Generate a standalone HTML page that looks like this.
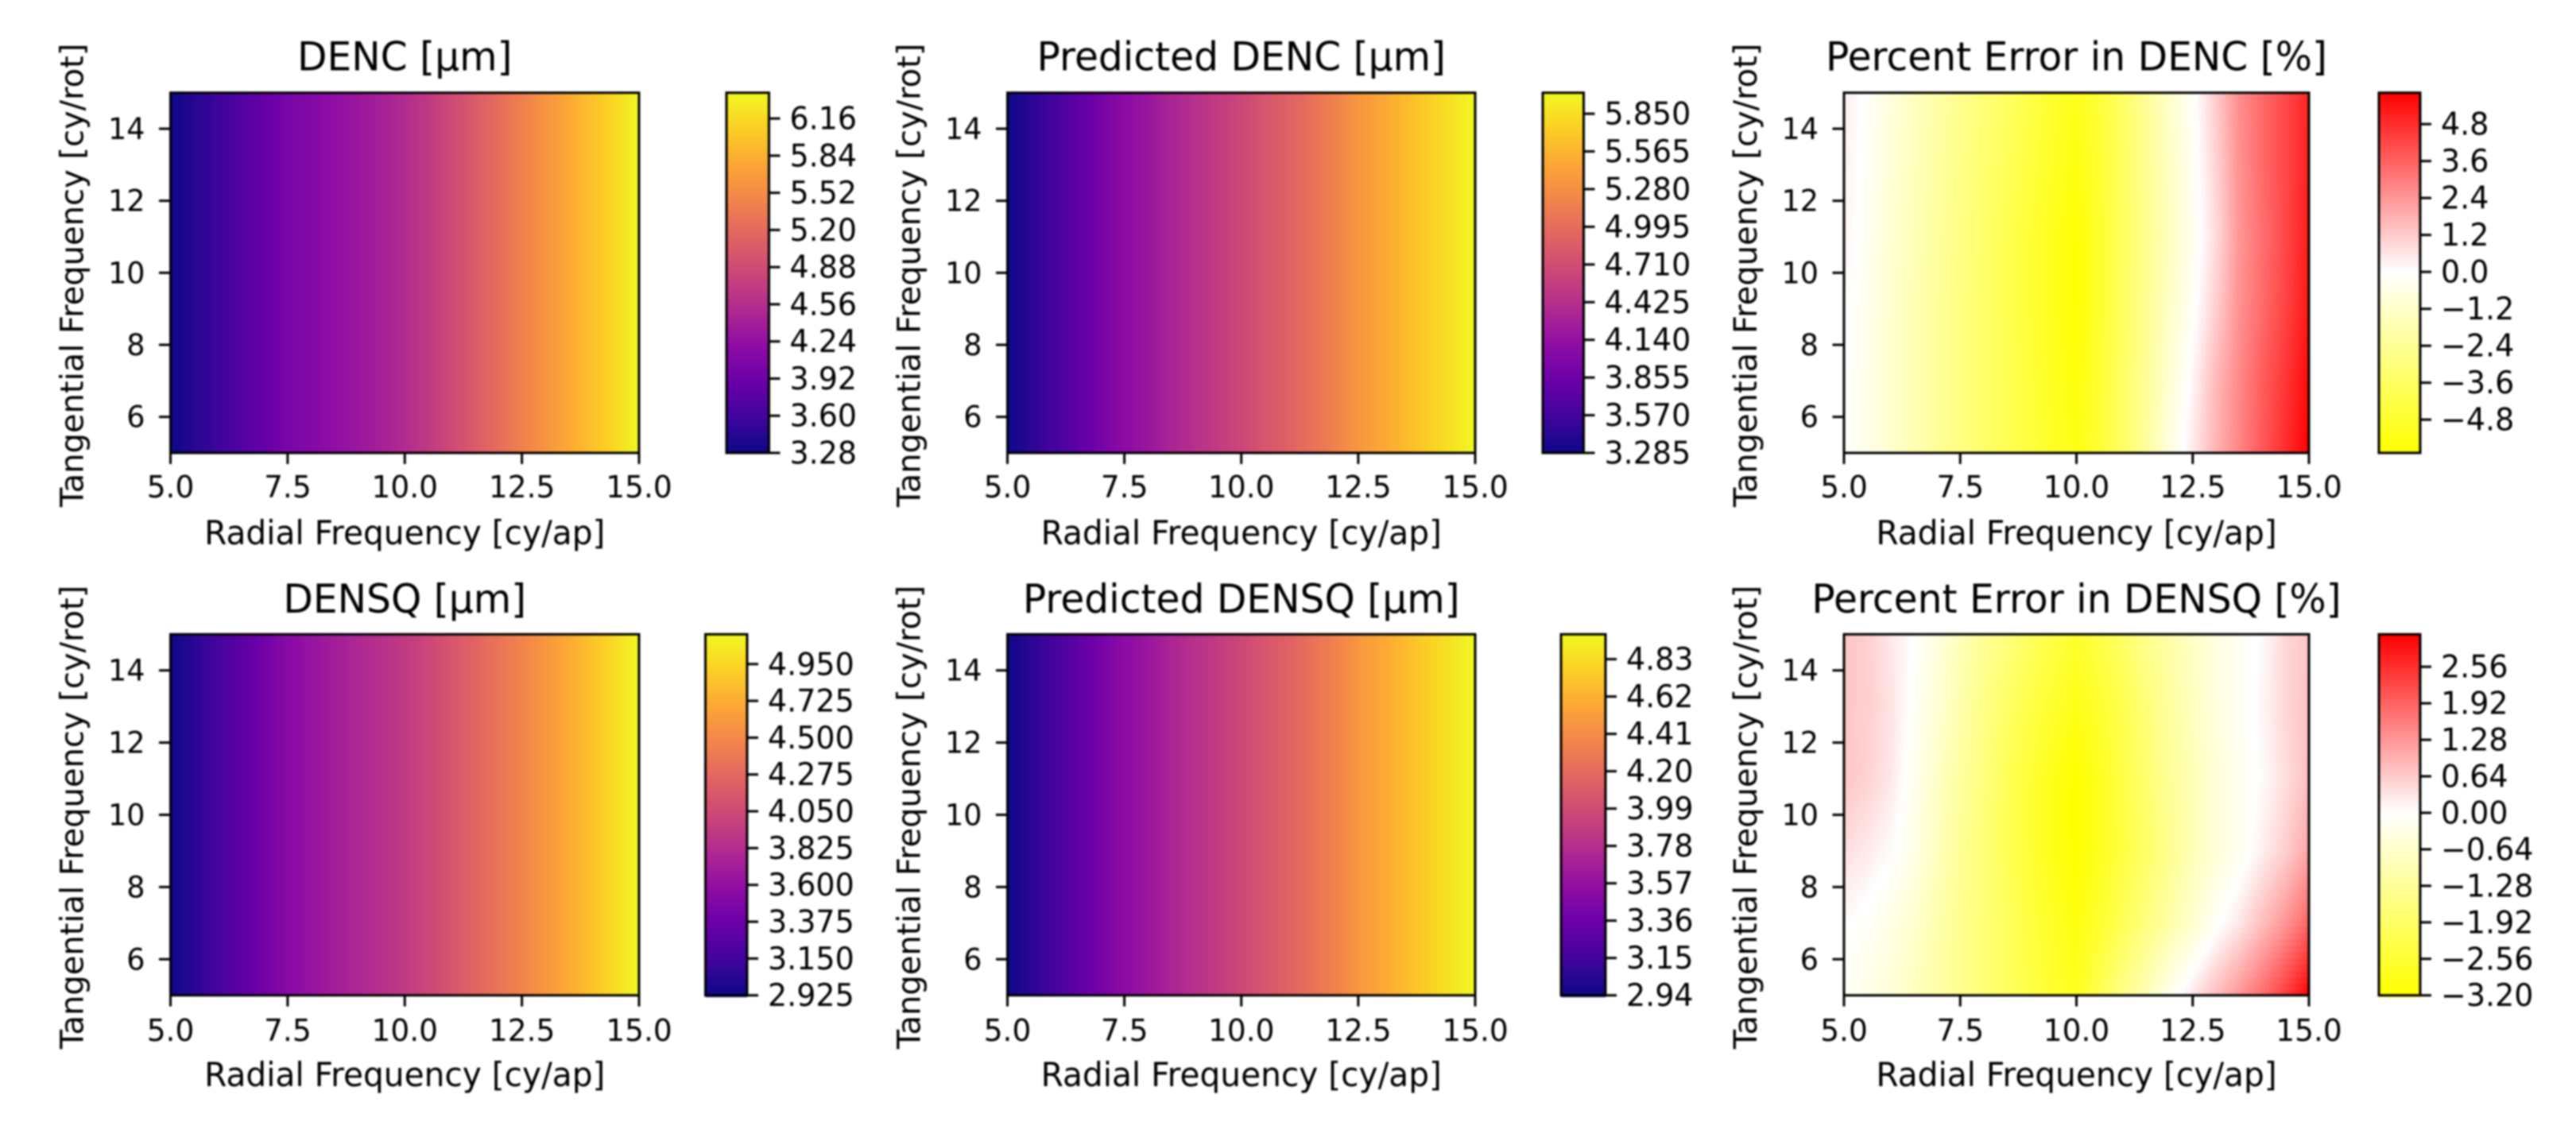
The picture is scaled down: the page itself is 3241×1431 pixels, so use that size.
<!DOCTYPE html>
<html lang="en">
<head>
<meta charset="utf-8">
<title>DENC and DENSQ heatmaps</title>
<style>
  html, body { margin: 0; padding: 0; background: #fff; }
  #figure { display: block; width: 3241px; height: 1431px; filter: blur(1.1px); }
  text { font-family: "DejaVu Sans", "Liberation Sans", sans-serif; fill: #000; }
</style>
</head>
<body>
<svg id="figure" xmlns="http://www.w3.org/2000/svg" width="3241" height="1431" viewBox="0 0 3241 1431"></svg>
<script>
// ---- Data ----
const radialFrequencies = [5,5.5,6,6.5,7,7.5,8,8.5,9,9.5,10,10.5,11,11.5,12,12.5,13,13.5,14,14.5,15];
const tangentialSingle = [5];
const tangentialGrid = [5,7,9,11,13,15];

const xTickValues = [5,7.5,10,12.5,15];
const xTickLabels = ["5.0","7.5","10.0","12.5","15.0"];
const yTickValues = [6,8,10,12,14];
const yTickLabels = ["6","8","10","12","14"];

const dencValues = [[3.28,3.43,3.56,3.71,3.87,4.02,4.11,4.22,4.31,4.41,4.53,4.68,4.86,5.04,5.23,5.41,5.60,5.78,5.97,6.15,6.38]];
const predictedDencValues = [[3.285,3.435,3.584,3.747,3.911,4.074,4.183,4.319,4.427,4.536,4.645,4.781,4.89,5.026,5.162,5.339,5.461,5.597,5.733,5.869,6.009]];
const densqValues = [[2.925,3.046,3.168,3.289,3.411,3.543,3.632,3.709,3.786,3.852,3.93,4.029,4.139,4.25,4.36,4.471,4.592,4.713,4.846,4.978,5.132]];
const predictedDensqValues = [[2.94,3.052,3.164,3.286,3.408,3.53,3.611,3.713,3.794,3.876,3.957,4.059,4.14,4.242,4.343,4.476,4.567,4.669,4.771,4.872,4.97]];

const errorDencValues = [
  [-0.1,-0.5,-1.1,-1.7,-2.3,-2.9,-3.4,-3.9,-4.4,-5.0,-5.4,-4.6,-3.6,-2.3,-0.7,0.5,1.7,2.8,3.8,4.8,5.8],
  [0.0,-0.5,-1.1,-1.7,-2.3,-2.9,-3.4,-3.9,-4.5,-5.1,-5.6,-4.7,-3.6,-2.4,-1.0,0.2,1.6,2.7,3.7,4.6,5.6],
  [0.1,-0.4,-1.1,-1.7,-2.3,-2.9,-3.4,-4.0,-4.6,-5.2,-5.8,-4.8,-3.7,-2.5,-1.3,-0.2,1.1,2.5,3.4,4.3,5.3],
  [0.3,-0.3,-1.0,-1.6,-2.2,-2.8,-3.4,-4.0,-4.6,-5.2,-5.8,-4.8,-3.7,-2.6,-1.5,-0.4,0.8,2.4,3.3,4.2,5.2],
  [0.3,-0.2,-0.9,-1.5,-2.1,-2.7,-3.3,-3.8,-4.4,-5.0,-5.5,-4.7,-3.7,-2.5,-1.4,-0.3,1.0,2.5,3.4,4.2,5.1],
  [0.4,-0.1,-0.8,-1.4,-2.0,-2.6,-3.1,-3.6,-4.2,-4.8,-5.2,-4.5,-3.6,-2.4,-1.2,-0.2,1.2,2.6,3.4,4.2,5.0]
];
const errorDensqValues = [
  [-0.1,-0.3,-0.5,-0.8,-1.1,-1.4,-1.7,-2.0,-2.3,-2.6,-2.8,-2.2,-1.5,-0.9,-0.2,0.3,0.8,1.3,1.8,2.4,3.1],
  [0.05,-0.1,-0.3,-0.6,-1.0,-1.4,-1.7,-2.0,-2.4,-2.7,-3.0,-2.6,-2.1,-1.6,-1.1,-0.6,-0.1,0.3,0.8,1.3,1.9],
  [0.4,0.25,0.05,-0.3,-0.8,-1.3,-1.7,-2.1,-2.5,-2.9,-3.2,-2.8,-2.4,-1.9,-1.4,-0.9,-0.5,-0.2,0.2,0.6,1.1],
  [0.7,0.55,0.3,-0.2,-0.7,-1.2,-1.6,-2.1,-2.5,-2.9,-3.2,-2.8,-2.3,-1.8,-1.3,-0.9,-0.5,-0.2,0.05,0.4,0.8],
  [0.7,0.6,0.35,-0.1,-0.5,-1.0,-1.5,-1.9,-2.3,-2.6,-2.9,-2.6,-2.2,-1.7,-1.2,-0.8,-0.4,-0.15,0.1,0.5,0.75],
  [0.7,0.6,0.3,0.0,-0.4,-0.9,-1.3,-1.6,-2.0,-2.3,-2.6,-2.3,-1.9,-1.4,-1.1,-0.7,-0.4,-0.15,0.05,0.5,0.7]
];

const dencColorbarTicks = ["3.28","3.60","3.92","4.24","4.56","4.88","5.20","5.52","5.84","6.16"];
const predictedDencColorbarTicks = ["3.285","3.570","3.855","4.140","4.425","4.710","4.995","5.280","5.565","5.850"];
const errorDencColorbarTicks = ["-4.8","-3.6","-2.4","-1.2","0.0","1.2","2.4","3.6","4.8"];
const densqColorbarTicks = ["2.925","3.150","3.375","3.600","3.825","4.050","4.275","4.500","4.725","4.950"];
const predictedDensqColorbarTicks = ["2.94","3.15","3.36","3.57","3.78","3.99","4.20","4.41","4.62","4.83"];
const errorDensqColorbarTicks = ["-3.20","-2.56","-1.92","-1.28","-0.64","0.00","0.64","1.28","1.92","2.56"];

const dencRange = [3.28, 6.382];
const predictedDencRange = [3.285, 6.009];
const errorDencRange = [-5.88, 5.82];
const densqRange = [2.925, 5.132];
const predictedDensqRange = [2.94, 4.97];
const errorDensqRange = [-3.2, 3.13];

// ---- Colour maps ----
const plasmaStops = [[13,8,135],[65,4,157],[106,0,168],[143,13,164],[177,42,144],[204,71,120],[225,100,98],[242,132,75],[252,166,54],[252,206,37],[240,249,33]];
function plasma(t) {
  t = Math.max(0, Math.min(1, t));
  const p = t * (plasmaStops.length - 1);
  const i = Math.min(plasmaStops.length - 2, Math.floor(p));
  const f = p - i;
  const a = plasmaStops[i], b = plasmaStops[i + 1];
  return "rgb(" + Math.round(a[0] + (b[0] - a[0]) * f) + "," + Math.round(a[1] + (b[1] - a[1]) * f) + "," + Math.round(a[2] + (b[2] - a[2]) * f) + ")";
}
function yellowWhiteRed(v, range) {
  if (v < 0) {
    const f = Math.min(1, v / range[0]);
    return "rgb(255,255," + Math.round(255 * (1 - f)) + ")";
  }
  const f = Math.min(1, v / range[1]);
  const g = Math.round(255 * (1 - f));
  return "rgb(255," + g + "," + g + ")";
}

// ---- Layout ----
const figure = document.getElementById("figure");
const NS = "http://www.w3.org/2000/svg";
const X_TICK_FONT = 37.5, Y_TICK_FONT = 36.5, CB_FONT = 38, X_LABEL_FONT = 40.7, Y_LABEL_FONT = 40, TITLE_FONT = 48.7, STRETCH = 1.02;

const panels = [
  { name: "denc-panel", title: "DENC [µm]", grid: dencValues, rows: tangentialSingle, range: dencRange, cbTicks: dencColorbarTicks, cmap: "plasma",
    ax: [214.5, 804, 116.7, 570], cb: [914, 967.5], titleY: 88.5, tickY: 626, labelY: 685 },
  { name: "predicted-denc-panel", title: "Predicted DENC [µm]", grid: predictedDencValues, rows: tangentialSingle, range: predictedDencRange, cbTicks: predictedDencColorbarTicks, cmap: "plasma",
    ax: [1267.5, 1856, 116.7, 570], cb: [1941, 1992.5], titleY: 88.5, tickY: 626, labelY: 685 },
  { name: "error-denc-panel", title: "Percent Error in DENC [%]", grid: errorDencValues, rows: tangentialGrid, range: errorDencRange, cbTicks: errorDencColorbarTicks, cmap: "error",
    ax: [2320, 2905, 116.7, 570], cb: [2993, 3045], titleY: 88.5, tickY: 626, labelY: 685 },
  { name: "densq-panel", title: "DENSQ [µm]", grid: densqValues, rows: tangentialSingle, range: densqRange, cbTicks: densqColorbarTicks, cmap: "plasma",
    ax: [214.5, 804, 798.3, 1252.7], cb: [887.5, 940], titleY: 771, tickY: 1310, labelY: 1367 },
  { name: "predicted-densq-panel", title: "Predicted DENSQ [µm]", grid: predictedDensqValues, rows: tangentialSingle, range: predictedDensqRange, cbTicks: predictedDensqColorbarTicks, cmap: "plasma",
    ax: [1267.5, 1856, 798.3, 1252.7], cb: [1964, 2020], titleY: 771, tickY: 1310, labelY: 1367 },
  { name: "error-densq-panel", title: "Percent Error in DENSQ [%]", grid: errorDensqValues, rows: tangentialGrid, range: errorDensqRange, cbTicks: errorDensqColorbarTicks, cmap: "error",
    ax: [2320, 2905, 798.3, 1252.7], cb: [2993, 3045], titleY: 771, tickY: 1310, labelY: 1367 }
];

function make(tag, parent, attrs) {
  const node = document.createElementNS(NS, tag);
  for (const k in attrs) node.setAttribute(k, attrs[k]);
  parent.appendChild(node);
  return node;
}
function stretchedText(parent, str, x, y, size, anchor) {
  const t = make("text", parent, {
    transform: "translate(" + x + "," + y + ") scale(1," + STRETCH + ")",
    "font-size": size,
    "text-anchor": anchor
  });
  t.textContent = str;
  return t;
}
function locate(list, v) {
  if (list.length === 1) return [0, 0, 0];
  let i = 0;
  while (i < list.length - 2 && v > list[i + 1]) i++;
  return [i, i + 1, (v - list[i]) / (list[i + 1] - list[i])];
}
function sampleGrid(grid, rows, xv, yv) {
  const cx = locate(radialFrequencies, xv);
  const cy = locate(rows, yv);
  const top = grid[cy[0]], bot = grid[cy[1]];
  const a = top[cx[0]] + (top[cx[1]] - top[cx[0]]) * cx[2];
  const b = bot[cx[0]] + (bot[cx[1]] - bot[cx[0]]) * cx[2];
  return a + (b - a) * cy[2];
}

panels.forEach(function (p) {
  const x0 = p.ax[0], x1 = p.ax[1], yTop = p.ax[2], yBot = p.ax[3];
  const xScale = function (v) { return x0 + (v - 5) / 10 * (x1 - x0); };
  const yScale = function (v) { return yBot - (v - 5) / 10 * (yBot - yTop); };
  const xInv = function (px) { return 5 + (px - x0) / (x1 - x0) * 10; };
  const yInv = function (px) { return 5 + (yBot - px) / (yBot - yTop) * 10; };
  const cbScale = function (v) { return yBot - (v - p.range[0]) / (p.range[1] - p.range[0]) * (yBot - yTop); };
  const color = function (v) {
    return p.cmap === "plasma" ? plasma((v - p.range[0]) / (p.range[1] - p.range[0])) : yellowWhiteRed(v, p.range);
  };

  const g = make("g", figure, {});
  
  

  const title = stretchedText(g, p.title, (x0 + x1) / 2, p.titleY, TITLE_FONT, "middle");
  
  

  // heatmap cells, resampled from the value grid
  const heat = make("g", g, { "shape-rendering": "crispEdges" });
  
  
  const stepX = p.rows.length === 1 ? 2 : 5;
  const stepY = p.rows.length === 1 ? (yBot - yTop) : 8;
  for (let py = yTop; py < yBot; py += stepY) {
    for (let px = x0; px < x1; px += stepX) {
      const v = sampleGrid(p.grid, p.rows, xInv(px + stepX / 2), yInv(py + stepY / 2));
      const cell = make("rect", heat, {
        x: px, y: py,
        width: Math.min(stepX + 0.5, x1 - px),
        height: Math.min(stepY + 0.5, yBot - py),
        fill: color(v)
      });
      
      
    }
  }
  const frame = make("rect", g, { x: x0, y: yTop, width: x1 - x0, height: yBot - yTop, fill: "none", stroke: "#000", "stroke-width": 3 });
  
  

  // x axis
  xTickValues.forEach(function (v, i) {
    const tick = make("line", g, { x1: xScale(v), x2: xScale(v), y1: yBot, y2: yBot + 14, stroke: "#000", "stroke-width": 3 });
    
    
    const label = stretchedText(g, xTickLabels[i], xScale(v), p.tickY, X_TICK_FONT, "middle");
    
    
  });
  const xTitle = stretchedText(g, "Radial Frequency [cy/ap]", (x0 + x1) / 2, p.labelY, X_LABEL_FONT, "middle");
  
  

  // y axis
  yTickValues.forEach(function (v, i) {
    const tick = make("line", g, { x1: x0 - 14.5, x2: x0, y1: yScale(v), y2: yScale(v), stroke: "#000", "stroke-width": 3 });
    
    
    const label = stretchedText(g, yTickLabels[i], x0 - 32, yScale(v) + 13, Y_TICK_FONT, "end");
    
    
  });
  const yTitle = make("text", g, {
    transform: "translate(" + (x0 - 110) + "," + ((yTop + yBot) / 2 + 3) + ") rotate(-90)",
    "font-size": Y_LABEL_FONT,
    "text-anchor": "middle"
  });
  yTitle.textContent = "Tangential Frequency [cy/rot]";
  
  

  // colorbar
  const cbG = make("g", g, { "shape-rendering": "crispEdges" });
  
  
  for (let py = yTop; py < yBot; py += 2) {
    const v = p.range[0] + (yBot - py - 1) / (yBot - yTop) * (p.range[1] - p.range[0]);
    const strip = make("rect", cbG, { x: p.cb[0], y: py, width: p.cb[1] - p.cb[0], height: 2.5, fill: color(v) });
    
    
  }
  const cbFrame = make("rect", g, { x: p.cb[0], y: yTop, width: p.cb[1] - p.cb[0], height: yBot - yTop, fill: "none", stroke: "#000", "stroke-width": 3 });
  
  
  p.cbTicks.forEach(function (str) {
    const y = cbScale(Number(str));
    const tick = make("line", g, { x1: p.cb[1], x2: p.cb[1] + 14, y1: y, y2: y, stroke: "#000", "stroke-width": 3 });
    
    
    const label = stretchedText(g, str.replace("-", "\u2212"), p.cb[1] + 26, y + 13.5, CB_FONT, "start");
    
    
  });
});
</script>
</body>
</html>
